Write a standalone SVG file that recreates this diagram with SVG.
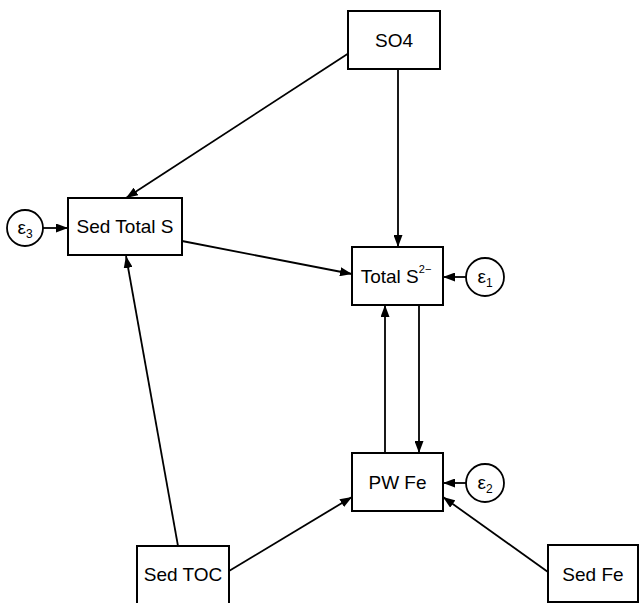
<svg xmlns="http://www.w3.org/2000/svg" width="639" height="603" viewBox="0 0 639 603">
<style>
.box{fill:#fff;stroke:#000;stroke-width:2}
.err{fill:#fff;stroke:#000;stroke-width:1.8}
.lbl{font-family:"Liberation Sans",Arial,sans-serif;font-size:19px;fill:#000;text-anchor:middle}
.eps{font-family:"Liberation Sans",Arial,sans-serif;font-size:19px;fill:#000;text-anchor:middle}
.edge{stroke:#000;stroke-width:1.8;fill:none;marker-end:url(#ah)}
</style>
<defs>
<marker id="ah" viewBox="0 0 12 9" refX="12" refY="4.5" markerWidth="12" markerHeight="9" markerUnits="userSpaceOnUse" orient="auto">
<path d="M0,0 L12,4.5 L0,9 Z" fill="#000"/>
</marker>
</defs>
<rect width="639" height="603" fill="#fff"/>
<g id="connectors">
<line class="edge" x1="349" y1="53" x2="126" y2="198"/>
<line class="edge" x1="398" y1="69" x2="398" y2="247"/>
<line class="edge" x1="182" y1="241" x2="352" y2="274"/>
<line class="edge" x1="43" y1="228" x2="68" y2="228"/>
<line class="edge" x1="466" y1="277" x2="443" y2="277"/>
<line class="edge" x1="419" y1="305" x2="419" y2="453"/>
<line class="edge" x1="385" y1="453" x2="385" y2="305"/>
<line class="edge" x1="466" y1="483" x2="443" y2="483"/>
<line class="edge" x1="178" y1="546" x2="126" y2="256"/>
<line class="edge" x1="229" y1="571" x2="352" y2="497"/>
<line class="edge" x1="548" y1="572" x2="443" y2="497"/>
</g>
<g id="SO4">
<rect class="box" x="348" y="11" width="92" height="58"/>
<text class="lbl" x="394" y="47">SO4</text>
</g>
<g id="SedTotalS">
<rect class="box" x="68" y="198" width="114" height="57"/>
<text class="lbl" x="125" y="233">Sed Total S</text>
</g>
<g id="TotalS2">
<rect class="box" x="352" y="247" width="91" height="58"/>
<text class="lbl" x="396" y="283">Total S<tspan font-size="11" dy="-10">2−</tspan></text>
</g>
<g id="PWFe">
<rect class="box" x="352" y="453" width="91" height="58"/>
<text class="lbl" x="397.5" y="489">PW Fe</text>
</g>
<g id="SedTOC">
<rect class="box" x="137" y="546" width="92" height="60"/>
<text class="lbl" x="183" y="581">Sed TOC</text>
</g>
<g id="SedFe">
<rect class="box" x="548" y="545" width="90" height="57"/>
<text class="lbl" x="593" y="581">Sed Fe</text>
</g>
<g id="e3">
<circle class="err" cx="25" cy="228" r="18"/>
<text class="eps" x="25" y="234">ε<tspan font-size="12" dy="4">3</tspan></text>
</g>
<g id="e1">
<circle class="err" cx="485" cy="277" r="19"/>
<text class="eps" x="485" y="283">ε<tspan font-size="12" dy="4">1</tspan></text>
</g>
<g id="e2">
<circle class="err" cx="485" cy="483" r="19"/>
<text class="eps" x="485" y="489">ε<tspan font-size="12" dy="4">2</tspan></text>
</g>
</svg>
